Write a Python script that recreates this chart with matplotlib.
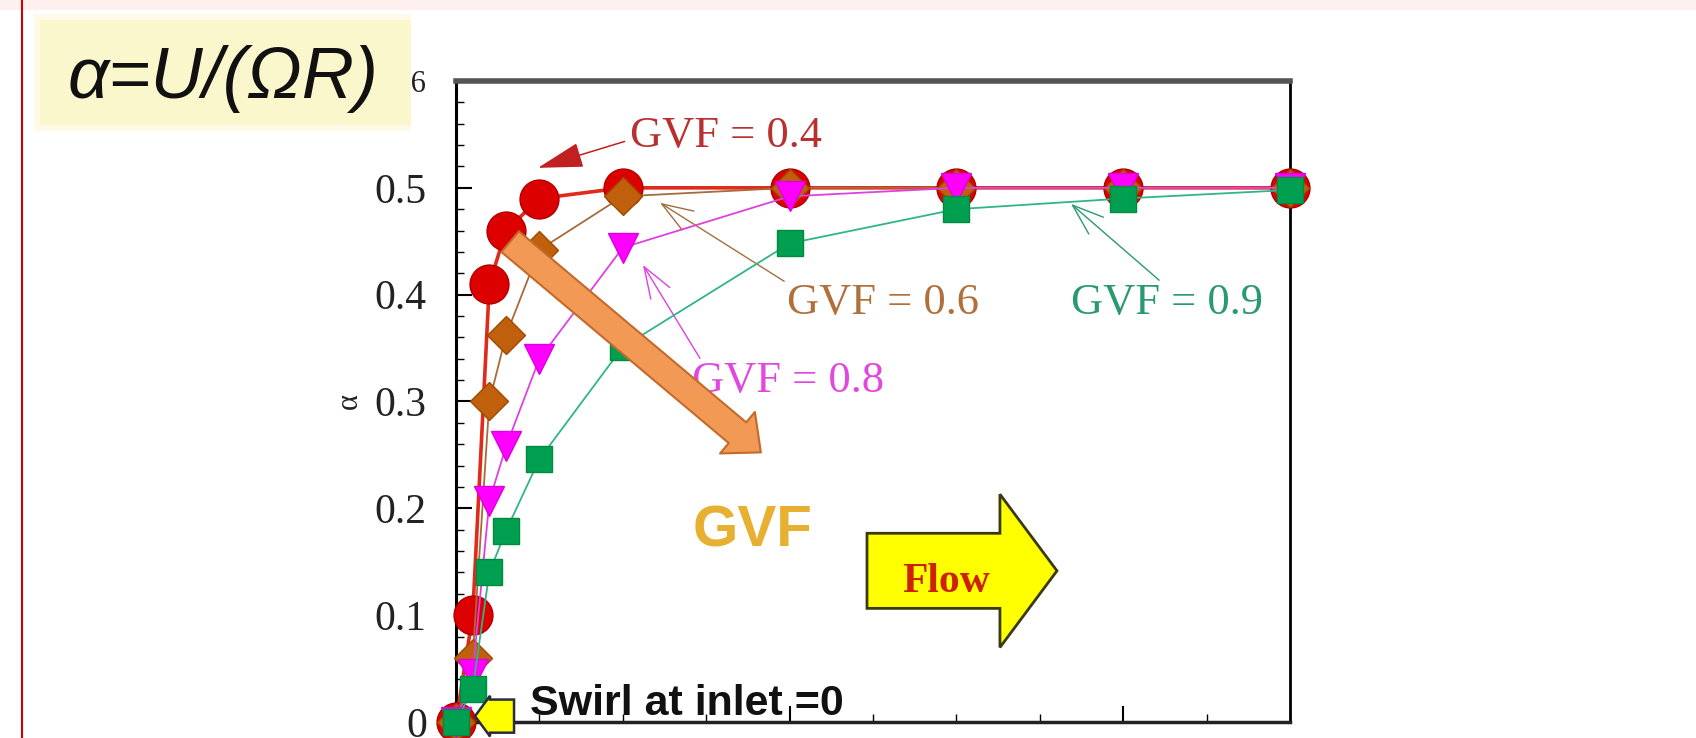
import matplotlib
matplotlib.use('Agg')
import matplotlib.pyplot as plt
from matplotlib.patches import Rectangle, FancyArrowPatch, FancyArrow, ArrowStyle
from matplotlib.lines import Line2D
from matplotlib.ticker import MultipleLocator, FixedLocator

# ---- data ----
x_pos = [0, 0.1, 0.2, 0.3, 0.5, 1, 2, 3, 4, 5]
alpha_gvf04 = [0, 0.10, 0.41, 0.46, 0.49, 0.50, 0.50, 0.50, 0.50, 0.50]
alpha_gvf06 = [0, 0.06, 0.30, 0.362, 0.442, 0.492, 0.50, 0.50, 0.50, 0.50]
alpha_gvf08 = [0, 0.045, 0.207, 0.258, 0.34, 0.444, 0.492, 0.50, 0.50, 0.50]
alpha_gvf09 = [0, 0.031, 0.14, 0.179, 0.246, 0.351, 0.448, 0.480, 0.490, 0.498]
series_labels = ['GVF = 0.4', 'GVF = 0.6', 'GVF = 0.8', 'GVF = 0.9']
y_ticks = [0, 0.1, 0.2, 0.3, 0.4, 0.5, 0.6]
y_tick_labels = ['0', '0.1', '0.2', '0.3', '0.4', '0.5', '0.6']
x_major = [0, 2, 4]

W, H = 1696, 738
fig = plt.figure(figsize=(W / 100, H / 100), dpi=100)
fig.patch.set_facecolor('white')
ax = fig.add_axes([456 / W, 1 - 722 / H, (1290 - 456) / W, (722 - 81) / H])

ax.plot(x_pos, alpha_gvf04, color='#e02a1a', lw=2.6, marker='o', ms=28,
        mfc='#dd0000', mec='#b00000', mew=1, clip_on=False, zorder=3)
ax.plot(x_pos, alpha_gvf06, color='#a86a3a', lw=1.3, marker='D', ms=19,
        mfc='#c0600c', mec='#a04a00', mew=1, clip_on=False, zorder=4)
ax.plot(x_pos, alpha_gvf08, color='#e040e0', lw=1.3, marker='v', ms=22,
        mfc='#ff00ff', mec='#dd00dd', mew=1, clip_on=False, zorder=5)
ax.plot(x_pos, alpha_gvf09, color='#2fb58a', lw=1.3, marker='s', ms=19,
        mfc='#00a050', mec='#008a40', mew=1, clip_on=False, zorder=6)

ax.set_xlim(0, 5)
ax.set_ylim(0, 0.6)
ax.xaxis.set_major_locator(FixedLocator(x_major))
ax.xaxis.set_minor_locator(MultipleLocator(0.5))
ax.yaxis.set_major_locator(FixedLocator(y_ticks))
ax.set_yticklabels(y_tick_labels)
ax.yaxis.set_minor_locator(MultipleLocator(0.02))
ax.tick_params(which='both', direction='in', top=False, right=False,
               labelbottom=False)
ax.tick_params(which='major', length=11.5, width=1.5)
ax.tick_params(which='minor', length=5.5, width=1.0)
ax.tick_params(axis='y', which='major', pad=21, labelsize=30)
for lab in ax.get_yticklabels():
    lab.set_fontfamily('Liberation Serif')
    lab.set_color('#222222')
TOP_LABEL_SIZE = 22
ax.get_yticklabels()[-1].set_fontsize(TOP_LABEL_SIZE)

ax.spines['top'].set_color('#555555')
ax.spines['top'].set_linewidth(4)
ax.spines['left'].set_linewidth(2.2)
ax.spines['right'].set_linewidth(2.0)
ax.spines['bottom'].set_linewidth(2.5)
ax.spines['bottom'].set_color('#222222')

ax.set_ylabel('α', fontsize=22, family='Liberation Serif', labelpad=8,
              color='#222222')

# ---- annotations ----
ax.annotate(series_labels[0], xy=(0.4916, 0.5187), xytext=(1.043, 0.5384),
            color='#b83030', fontsize=32, family='Liberation Serif',
            ha='left', va='baseline',
            arrowprops=dict(arrowstyle='-|>,head_length=0.9,head_width=0.25',
                            color='#c02020', lw=1.1, relpos=(0, 0.4),
                            shrinkA=2, shrinkB=0))
ax.annotate(series_labels[1], xy=(1.223, 0.486), xytext=(1.984, 0.3819),
            color='#b0703c', fontsize=32, family='Liberation Serif',
            ha='left', va='baseline',
            arrowprops=dict(arrowstyle='->,head_length=0.7,head_width=0.25',
                            color='#a0703c', lw=1.0, relpos=(0, 1),
                            shrinkA=0, shrinkB=0))
ax.annotate(series_labels[2], xy=(1.121, 0.4278), xytext=(1.415, 0.3088),
            color='#e048e0', fontsize=32, family='Liberation Serif',
            ha='left', va='baseline',
            arrowprops=dict(arrowstyle='->,head_length=0.7,head_width=0.25',
                            color='#e040e0', lw=1.0, relpos=(0.05, 1),
                            shrinkA=0, shrinkB=0))
ax.annotate(series_labels[3], xy=(3.687, 0.485), xytext=(3.687, 0.3819),
            color='#2a9a6e', fontsize=32, family='Liberation Serif',
            ha='left', va='baseline',
            arrowprops=dict(arrowstyle='->,head_length=0.7,head_width=0.25',
                            color='#2a9a6e', lw=1.0, relpos=(0.5, 0.9),
                            shrinkA=0, shrinkB=0))

# big orange "GVF increases" arrow
big = FancyArrowPatch(posA=(0.312, 0.4513), posB=(1.8405, 0.2507),
                      arrowstyle=ArrowStyle.Simple(head_length=2.2, head_width=3.9,
                                                   tail_width=1.95),
                      mutation_scale=10, fc='#f29a55', ec='#c46a2a', lw=1.5,
                      zorder=10)
ax.add_patch(big)
ax.text(1.775, 0.1645, 'GVF', color='#e8b030', fontsize=42, fontweight='bold',
        family='Liberation Sans', ha='center', va='baseline', zorder=10)

# Flow block arrow
flow = FancyArrow(2.464, 0.1415, 3.603 - 2.464, 0, width=0.0703, head_width=0.1434,
                  head_length=0.342, length_includes_head=True,
                  fc='#ffff00', ec='#3a3a10', lw=2, zorder=11)
ax.add_patch(flow)
ax.text(2.938, 0.1217, 'Flow', color='#cc2200', fontsize=30, fontweight='bold',
        family='Liberation Serif', ha='center', va='baseline', zorder=12)

# small inlet arrow
inlet = FancyArrow(0.348, 0.0055, 0.114 - 0.348, 0, width=0.031, head_width=0.038,
                   head_length=0.09, length_includes_head=True,
                   fc='#ffff00', ec='#2a2a40', lw=1.8, clip_on=False, zorder=8)
ax.add_patch(inlet)
ax.text(0.444, 0.007, 'Swirl at inlet =0', fontsize=31, fontweight='bold',
        family='Liberation Sans', ha='left', va='baseline', color='#111111',
        zorder=12)

# ---- slide decorations ----
# the yellow title box hides the "0." part of the top tick label, leaving "6"
fig.canvas.draw()
renderer = fig.canvas.get_renderer()
top_lab_bb = ax.get_yticklabels()[-1].get_window_extent(renderer)
probe = fig.text(0, 0, '6', fontsize=TOP_LABEL_SIZE, family='Liberation Serif')
w_six = probe.get_window_extent(renderer).width
probe.remove()
box_right = top_lab_bb.x1 - w_six - 0.5
box_left = 40

fig.add_artist(Rectangle((0, 1 - 10 / H), 1, 10 / H, transform=fig.transFigure,
                         fc='#fdf0ee', ec='none', zorder=1))
fig.add_artist(Rectangle(((box_left - 6) / W, 1 - 131 / H),
                         (box_right - box_left + 6) / W, 117 / H,
                         transform=fig.transFigure, fc='#fdfbe8', ec='none',
                         zorder=1))
fig.add_artist(Rectangle((box_left / W, 1 - 125 / H), (box_right - box_left) / W,
                         105 / H, transform=fig.transFigure, fc='#fbf7cc',
                         ec='none', zorder=1))
fig.add_artist(Line2D([22 / W, 22 / W], [0, 1], transform=fig.transFigure,
                      color='#cc0000', lw=1.5, zorder=2))
fig.text(68 / W, 1 - 98 / H, 'α=U/(ΩR)', fontsize=52, style='italic',
         family='Liberation Sans', ha='left', va='baseline', color='#111111',
         zorder=3)

fig.savefig('out.png', dpi=100)
